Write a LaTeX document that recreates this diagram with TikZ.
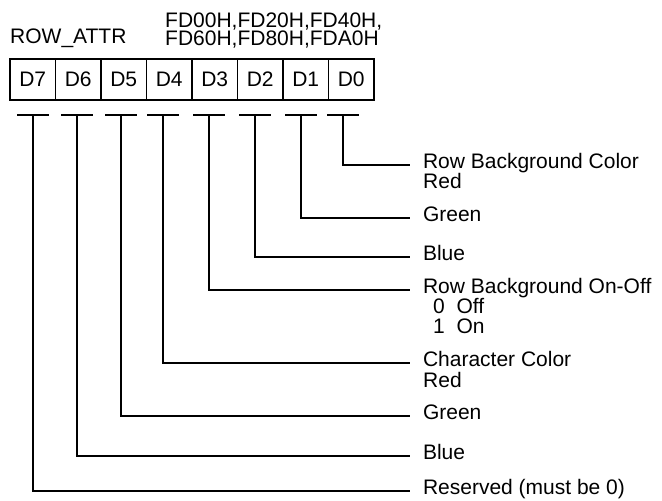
\documentclass[tikz,border=0pt]{standalone}
\usepackage{fontspec}
\setmainfont{Liberation Sans}
\usetikzlibrary{positioning}

\begin{document}
\begin{tikzpicture}[x=1pt, y=-1pt,
    every node/.style={font=\fontsize{21}{21}\selectfont},
    cell/.style={draw, line width=1.2pt, minimum width=45.5pt, minimum height=41pt, inner sep=0pt, outer sep=0pt},
    bar/.style={fill=black, minimum width=32pt, minimum height=2.6pt, inner sep=0pt},
    lbl/.style={anchor=west, inner sep=0pt, outer xsep=13pt, text height=0.716em, text depth=0pt},
    sub/.style={anchor=west, inner sep=0pt, text height=0.716em, text depth=0pt},
    lead/.style={line width=2pt}]
    \useasboundingbox (0,0) rectangle (662,501);

    % register name and addresses
    \node[sub] (regname) at (10,40) {ROW\_ATTR};
    \node[anchor=south west, inner sep=0pt, align=left, font=\fontsize{21}{18}\selectfont]
        (addr) at (165,48.5) {FD00H,FD20H,FD40H,\\FD60H,FD80H,FDA0H};

    % bit cells
    \node[cell] (d7) at (32.75,79.5) {D7};
    \node[cell, right=0pt of d7] (d6) {D6};
    \node[cell, right=0pt of d6] (d5) {D5};
    \node[cell, right=0pt of d5] (d4) {D4};
    \node[cell, right=0pt of d4] (d3) {D3};
    \node[cell, right=0pt of d3] (d2) {D2};
    \node[cell, right=0pt of d2] (d1) {D1};
    \node[cell, right=0pt of d1] (d0) {D0};

    % bit bars
    \node[bar] (t7) at (33,115) {};
    \node[bar] (t6) at (77,115) {};
    \node[bar] (t5) at (121,115) {};
    \node[bar] (t4) at (163,115) {};
    \node[bar] (t3) at (209,115) {};
    \node[bar] (t2) at (255,115) {};
    \node[bar] (t1) at (301,115) {};
    \node[bar] (t0) at (343,115) {};

    % field descriptions
    \node[lbl] (l0) at (410,165) {Row Background Color};
    \node[sub] (l0r) at (423,185) {Red};
    \node[lbl] (l1) at (410,218) {Green};
    \node[lbl] (l2) at (410,257) {Blue};
    \node[lbl] (l3) at (410,290) {Row Background On-Off};
    \node[sub] (l3off) at (433,309.5) {0~~Off};
    \node[sub] (l3on) at (433,330) {1~~On};
    \node[lbl] (l4) at (410,363) {Character Color};
    \node[sub] (l4r) at (423,384) {Red};
    \node[lbl] (l5) at (410,416) {Green};
    \node[lbl] (l6) at (410,456) {Blue};
    \node[lbl] (l7) at (410,491) {Reserved (must be 0)};

    % leaders
    \draw[lead] (t0.center) |- (l0.west);
    \draw[lead] (t1.center) |- (l1.west);
    \draw[lead] (t2.center) |- (l2.west);
    \draw[lead] (t3.center) |- (l3.west);
    \draw[lead] (t4.center) |- (l4.west);
    \draw[lead] (t5.center) |- (l5.west);
    \draw[lead] (t6.center) |- (l6.west);
    \draw[lead] (t7.center) |- (l7.west);
\end{tikzpicture}
\end{document}
